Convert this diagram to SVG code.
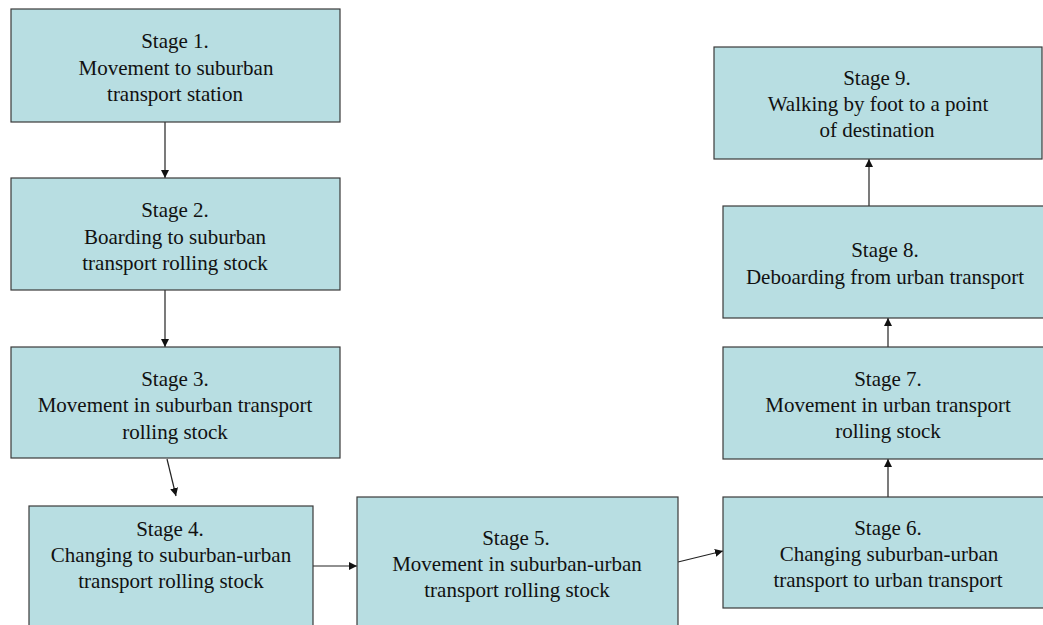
<svg xmlns="http://www.w3.org/2000/svg" width="1043" height="625" viewBox="0 0 1043 625">
<style>
.box{fill:#b8dee2;stroke:#3a3a3a;stroke-width:1.2}
.t{font-family:"Liberation Serif","Times New Roman",serif;font-size:21px;fill:#111;text-anchor:middle}
.c{stroke:#222;stroke-width:1.2;fill:none;marker-end:url(#ah)}
</style>
<defs>
<marker id="ah" viewBox="0 0 10 10" refX="10" refY="5" markerWidth="8" markerHeight="8" markerUnits="userSpaceOnUse" orient="auto">
<path d="M0,0 L10,5 L0,10 z" fill="#111"/>
</marker>
</defs>
<rect width="1043" height="625" fill="#fff"/>
<g id="connectors">
<line class="c" x1="165" y1="122" x2="165" y2="178"/>
<line class="c" x1="165" y1="290" x2="165" y2="347"/>
<line class="c" x1="167" y1="459" x2="176" y2="496"/>
<line class="c" x1="313" y1="566" x2="357" y2="566"/>
<line class="c" x1="678" y1="562" x2="723" y2="551"/>
<line class="c" x1="888" y1="497" x2="888" y2="459"/>
<line class="c" x1="888" y1="347" x2="888" y2="318"/>
<line class="c" x1="869" y1="206" x2="869" y2="159"/>
</g>
<g id="stage1">
<rect class="box" x="11" y="9" width="329" height="113"/>
<text class="t" x="175" y="48">Stage 1.</text>
<text class="t" x="176" y="75">Movement to suburban</text>
<text class="t" x="175" y="101">transport station</text>
</g>
<g id="stage2">
<rect class="box" x="11" y="178" width="329" height="112"/>
<text class="t" x="175" y="217">Stage 2.</text>
<text class="t" x="175" y="244">Boarding to suburban</text>
<text class="t" x="175" y="270">transport rolling stock</text>
</g>
<g id="stage3">
<rect class="box" x="11" y="347" width="329" height="111"/>
<text class="t" x="175" y="386">Stage 3.</text>
<text class="t" x="175" y="412">Movement in suburban transport</text>
<text class="t" x="175" y="439">rolling stock</text>
</g>
<g id="stage4">
<rect class="box" x="29" y="506" width="284" height="130"/>
<text class="t" x="170" y="536">Stage 4.</text>
<text class="t" x="171" y="562">Changing to suburban-urban</text>
<text class="t" x="171" y="588">transport rolling stock</text>
</g>
<g id="stage5">
<rect class="box" x="357" y="497" width="321" height="140"/>
<text class="t" x="516" y="545">Stage 5.</text>
<text class="t" x="517" y="571">Movement in suburban-urban</text>
<text class="t" x="517" y="597">transport rolling stock</text>
</g>
<g id="stage6">
<rect class="box" x="723" y="497" width="330" height="111"/>
<text class="t" x="888" y="535">Stage 6.</text>
<text class="t" x="889" y="561">Changing suburban-urban</text>
<text class="t" x="888" y="587">transport to urban transport</text>
</g>
<g id="stage7">
<rect class="box" x="723" y="347" width="330" height="112"/>
<text class="t" x="888" y="386">Stage 7.</text>
<text class="t" x="888" y="412">Movement in urban transport</text>
<text class="t" x="888" y="438">rolling stock</text>
</g>
<g id="stage8">
<rect class="box" x="723" y="206" width="330" height="112"/>
<text class="t" x="885" y="257">Stage 8.</text>
<text class="t" x="885" y="284">Deboarding from urban transport</text>
</g>
<g id="stage9">
<rect class="box" x="714" y="47" width="328" height="112"/>
<text class="t" x="877" y="85">Stage 9.</text>
<text class="t" x="878" y="111">Walking by foot to a point</text>
<text class="t" x="877" y="137">of destination</text>
</g>
</svg>
